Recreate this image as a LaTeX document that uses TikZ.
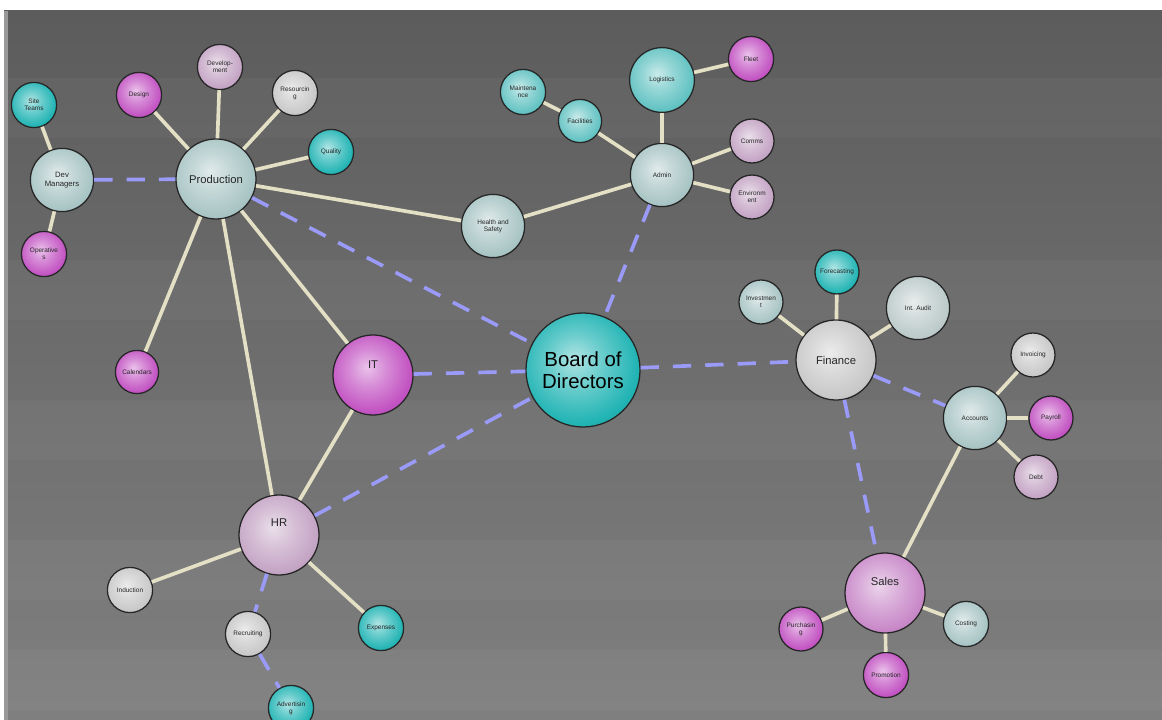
\documentclass[tikz,border=0pt]{standalone}
\usepackage{fontspec}
\setsansfont{Liberation Sans}
\definecolor{sphcol}{HTML}{30B8B8}
\definecolor{cTeal}{HTML}{22B4B4}
\definecolor{cLTeal}{HTML}{62C2C2}
\definecolor{cGTeal}{HTML}{A8C4C4}
\definecolor{cAudit}{HTML}{BCCACA}
\definecolor{cMag}{HTML}{C252C2}
\definecolor{cLPink}{HTML}{C4A4C4}
\definecolor{cLGray}{HTML}{C8C8C8}
\definecolor{cSales}{HTML}{C888C8}
\definecolor{linkc}{HTML}{E4E0C6}
\definecolor{dashc}{HTML}{9A9AF8}
\pgfdeclareradialshading[sphcol]{spheresh}{\pgfpoint{-4bp}{5bp}}{%
  color(0bp)=(sphcol!35!white); color(12bp)=(sphcol!68!white); color(26bp)=(sphcol);
  color(38bp)=(sphcol!82!black); color(48bp)=(sphcol!60!black); color(58bp)=(sphcol!45!black)}
\begin{document}
\begin{tikzpicture}[x=0.025cm,y=-0.025cm,
  sphere/.style={circle, draw=black!85, line width=0.9pt, shading=spheresh, inner sep=0pt, align=center, font=\sffamily\fontsize{4.6}{5}\selectfont, text=black!85},
  rsm/.style={minimum size=1.13cm},
  rmd/.style={minimum size=1.58cm},
  rbg/.style={minimum size=2.0cm, font=\sffamily\fontsize{8}{9}\selectfont},
  cteal/.style={/utils/exec=\colorlet{sphcol}{cTeal}},
  clteal/.style={/utils/exec=\colorlet{sphcol}{cLTeal}},
  cgteal/.style={/utils/exec=\colorlet{sphcol}{cGTeal}},
  caudit/.style={/utils/exec=\colorlet{sphcol}{cAudit}},
  cmag/.style={/utils/exec=\colorlet{sphcol}{cMag}},
  clpink/.style={/utils/exec=\colorlet{sphcol}{cLPink}},
  clgray/.style={/utils/exec=\colorlet{sphcol}{cLGray}},
  csales/.style={/utils/exec=\colorlet{sphcol}{cSales}},
  link/.style={draw=linkc, line width=2.6pt},
  dlink/.style={draw=dashc, line width=2.6pt, dash pattern=on 13pt off 10pt}
]
\useasboundingbox (0,0) rectangle (1162,720);
\fill[white] (0,0) rectangle (1162,720);
\shade[top color=black!64, bottom color=black!50] (4,11) rectangle (1162,720);
\fill[black!40] (4,11) rectangle (8,720);
% bands
\foreach \y in {78,260,400,540,650} {\fill[white,opacity=0.03] (8,\y) rectangle (1162,\y+60);}

% nodes
\node[sphere, cteal, minimum size=2.85cm, font=\sffamily\fontsize{14.5}{16}\selectfont, text=black] (board) at (583,370) {Board of\\Directors};
\node[sphere, cmag, rbg] (it) at (373,375) {IT\\[6pt]};
\node[sphere, cgteal, rbg] (prod) at (216,179) {Production};
\node[sphere, cgteal, rmd, font=\sffamily\fontsize{5.5}{6.2}\selectfont] (devm) at (62,180) {Dev\\Managers};
\node[sphere, cteal, minimum size=1.13cm] (site) at (34,105) {Site\\Teams};
\node[sphere, cmag, rsm] (oper) at (44,254) {Operative\\s};
\node[sphere, cmag, rsm] (design) at (139,95) {Design};
\node[sphere, clpink, rsm] (devel) at (220,67) {Develop-\\ment};
\node[sphere, clgray, rsm] (resour) at (295,93) {Resourcin\\g};
\node[sphere, cteal, rsm] (qual) at (331,152) {Quality};
\node[sphere, cmag, minimum size=1.08cm] (cal) at (137,372) {Calendars};
\node[sphere, cgteal, rmd] (hs) at (493,226) {Health and\\Safety};
\node[sphere, cgteal, rmd] (admin) at (662,175) {Admin};
\node[sphere, clteal, rsm] (maint) at (523,92) {Maintena\\nce};
\node[sphere, clteal, minimum size=1.08cm] (facil) at (580,121) {Facilities};
\node[sphere, clteal, minimum size=1.62cm] (logis) at (662,80) {Logistics};
\node[sphere, cmag, rsm] (fleet) at (751,59) {Fleet};
\node[sphere, clpink, minimum size=1.1cm] (comms) at (752,141) {Comms};
\node[sphere, clpink, minimum size=1.1cm] (envir) at (752,197) {Environm\\ent};
\node[sphere, clgray, rbg] (fin) at (836,360) {Finance};
\node[sphere, cgteal, minimum size=1.1cm] (invest) at (761,302) {Investmen\\t};
\node[sphere, cteal, minimum size=1.1cm] (fore) at (837,272) {Forecasting};
\node[sphere, caudit, minimum size=1.58cm] (audit) at (918,308) {Int. Audit};
\node[sphere, cgteal, rmd] (acc) at (975,418) {Accounts};
\node[sphere, clgray, minimum size=1.1cm] (invoi) at (1033,355) {Invoicing};
\node[sphere, cmag, minimum size=1.1cm] (payr) at (1051,418) {Payroll};
\node[sphere, clpink, minimum size=1.1cm] (debt) at (1036,477) {Debt};
\node[sphere, csales, rbg] (sales) at (885,593) {Sales\\[8pt]};
\node[sphere, cmag, minimum size=1.1cm] (purch) at (801,629) {Purchasin\\g};
\node[sphere, cmag, rsm] (promo) at (886,675) {Promotion};
\node[sphere, cgteal, rsm] (cost) at (966,624) {Costing};
\node[sphere, clpink, rbg] (hr) at (279,535) {HR\\[8pt]};
\node[sphere, clgray, rsm] (induc) at (130,590) {Induction};
\node[sphere, clgray, rsm] (recr) at (248,634) {Recruiting};
\node[sphere, cteal, rsm] (expen) at (381,628) {Expenses};
\node[sphere, cteal, rsm] (adver) at (291,708) {Advertisin\\g};

% solid links
\foreach \a/\b in {site/devm, devm/oper, design/prod, devel/prod, resour/prod, qual/prod,
  prod/hs, prod/cal, prod/hr, prod/it, it/hr, hr/induc, hr/expen, hs/admin, admin/facil,
  facil/maint, admin/logis, logis/fleet, admin/comms, admin/envir, fin/invest, fin/fore,
  fin/audit, acc/invoi, acc/payr, acc/debt, acc/sales, sales/purch, sales/promo, sales/cost}
  \draw[link] (\a) -- (\b);
% dashed links
\foreach \a/\b in {devm/prod, prod/board, it/board, hr/board, admin/board, board/fin,
  fin/acc, fin/sales, hr/recr, recr/adver}
  \draw[dlink] (\a) -- (\b);
\end{tikzpicture}
\end{document}
